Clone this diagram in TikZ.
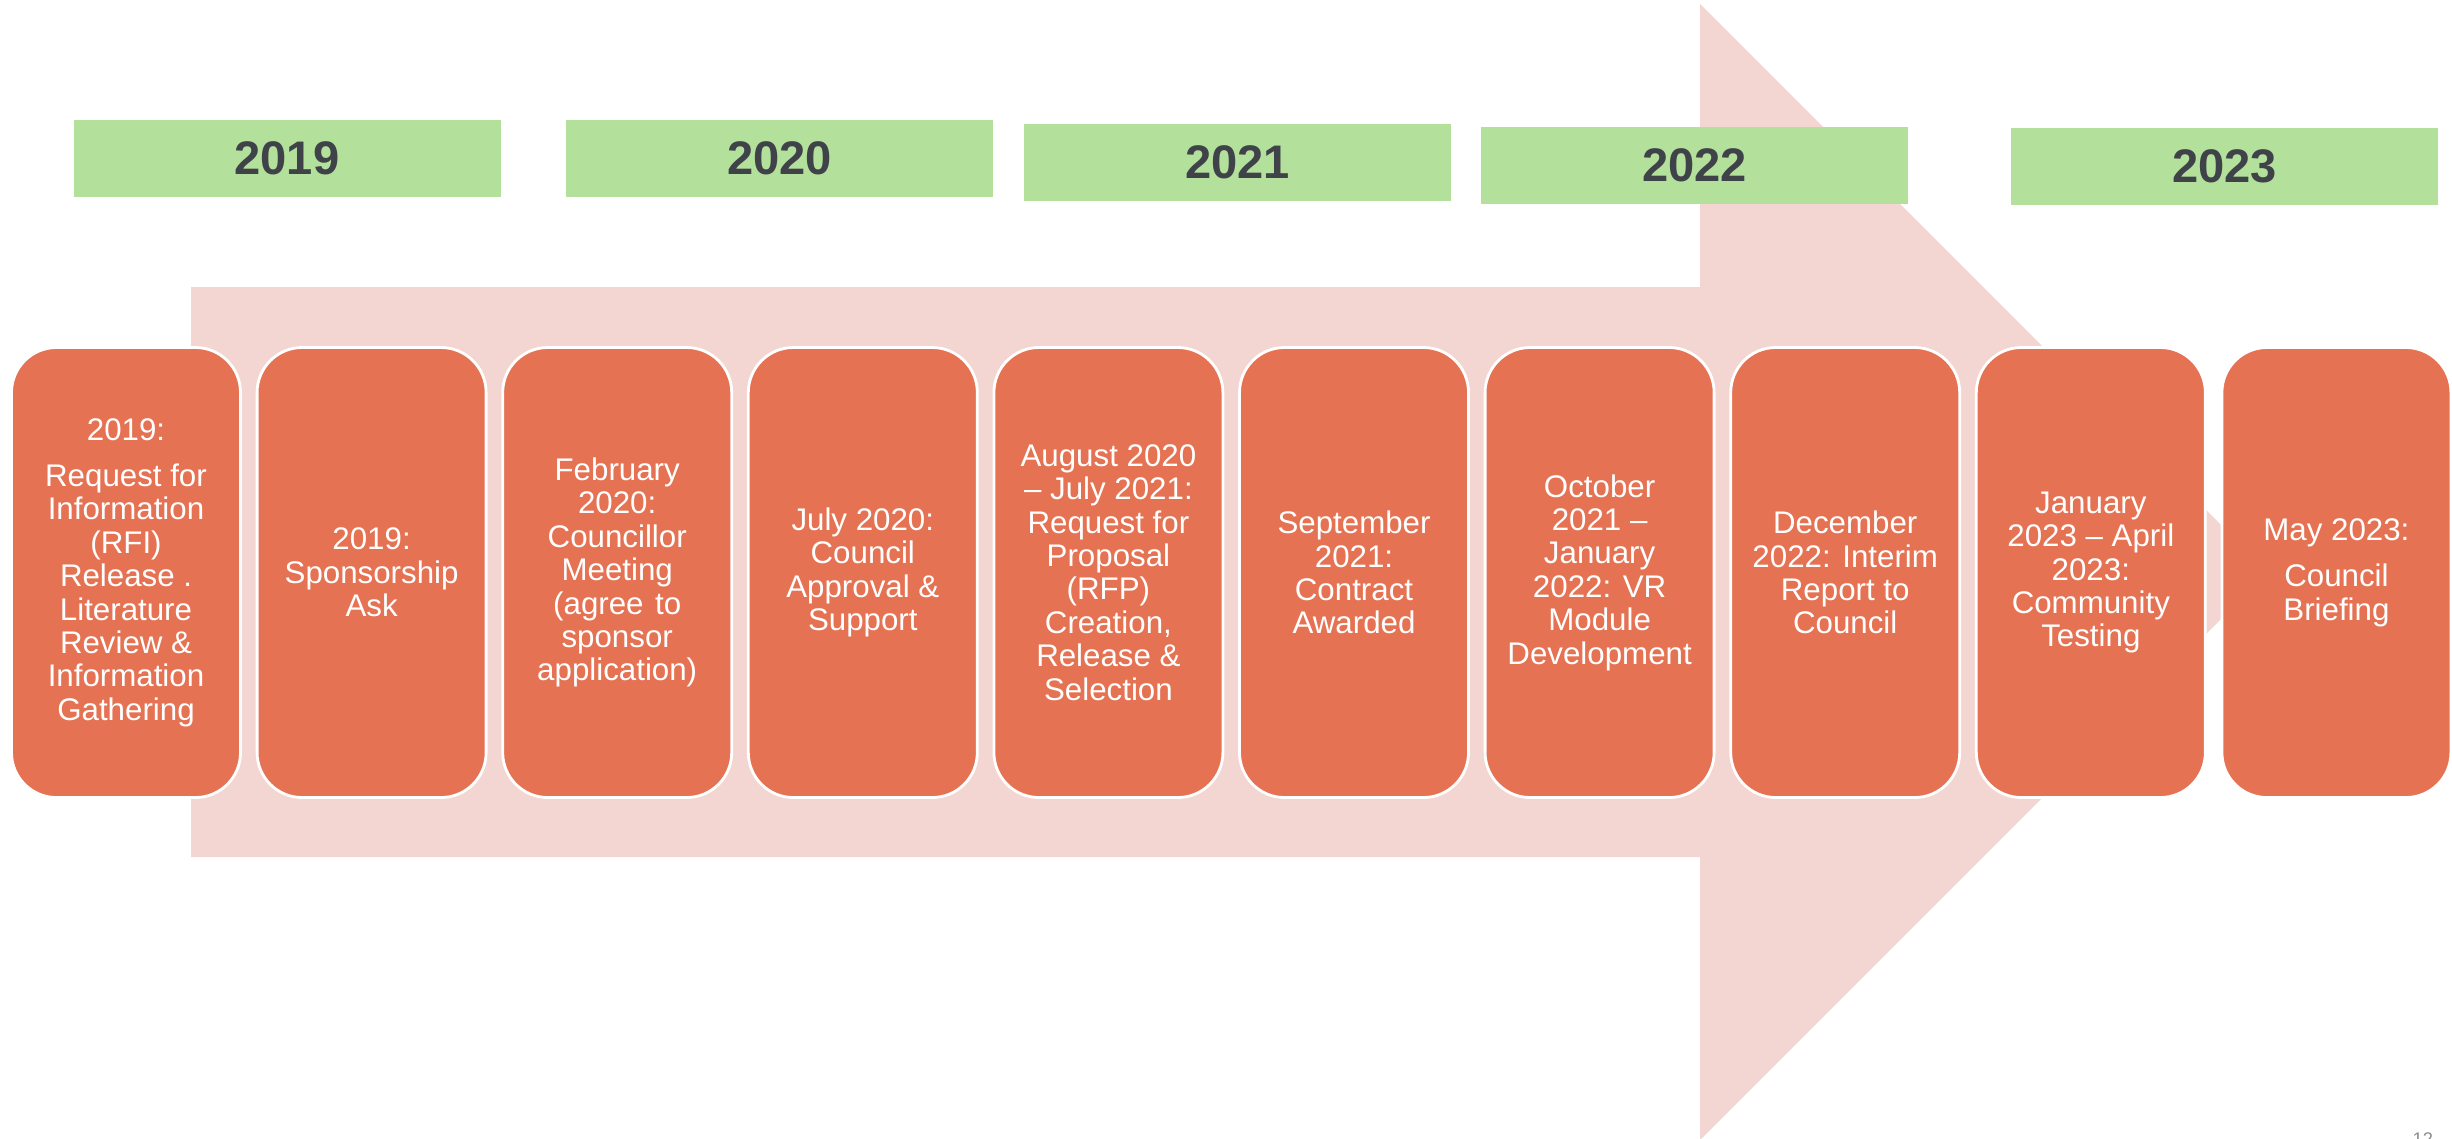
\documentclass[tikz,border=0pt]{standalone}
\usepackage{fontspec}
\setmainfont{Liberation Sans}
\definecolor{arrowpink}{HTML}{F3D6D1}
\definecolor{stageorange}{HTML}{E57252}
\definecolor{yeargreen}{HTML}{B3E09B}
\definecolor{yeartext}{HTML}{3F4349}
\definecolor{pagegray}{HTML}{8C8C8C}
\begin{document}
\begin{tikzpicture}[x=0.1mm,y=-0.1mm,
  yearbar/.style={fill=yeargreen, draw=none, minimum width=42.7mm, minimum height=7.7mm,
    inner sep=0pt, text=yeartext, font=\fontsize{13.4}{15}\selectfont\bfseries},
  stagebox/.style={fill=stageorange, draw=white, line width=0.8pt, rounded corners=4.5mm,
    minimum width=22.9mm, minimum height=45mm, inner sep=0pt, align=center, text=white,
    font=\fontsize{8.9}{9.5}\selectfont}]
\useasboundingbox (0,0) rectangle (2452,1138);

% background arrow
\fill[arrowpink] (191,287) -- (1700,287) -- (1700,4) -- (2268,572) -- (1700,1140)
  -- (1700,857) -- (191,857) -- cycle;

% year banners
\node[yearbar] (y2019) at (287,158.5) {2019};
\node[yearbar] (y2020) at (779.5,158.5) {2020};
\node[yearbar] (y2021) at (1237.5,162.5) {2021};
\node[yearbar] (y2022) at (1694.5,165) {2022};
\node[yearbar] (y2023) at (2224.5,166) {2023};

% timeline stages
\node[stagebox] (s1) at (126,572.5) {2019:\\[1.3mm]Request for\\Information\\(RFI)\\\makebox[13.2mm][s]{Release .}\\Literature\\\makebox[13.2mm][s]{Review \&}\\Information\\Gathering};
\node[stagebox] (s2) at (371.6,572.5) {2019:\\Sponsorship\\Ask};
\node[stagebox] (s3) at (617.2,572.5) {February\\2020:\\Councillor\\Meeting\\\makebox[12.8mm][s]{(agree to}\\sponsor\\application)};
\node[stagebox] (s4) at (862.8,572.5) {July 2020:\\Council\\Approval \&\\Support};
\node[stagebox] (s5) at (1108.4,572.5) {August 2020\\– July 2021:\\Request for\\Proposal\\(RFP)\\Creation,\\Release \&\\Selection};
\node[stagebox] (s6) at (1354,572.5) {September\\2021:\\Contract\\Awarded};
\node[stagebox] (s7) at (1599.6,572.5) {October\\2021 –\\January\\2022: VR\\Module\\Development};
\node[stagebox] (s8) at (1845.2,572.5) {December\\2022: Interim\\Report to\\Council};
\node[stagebox] (s9) at (2090.8,572.5) {January\\2023 – April\\2023:\\Community\\Testing};
\node[stagebox] (s10) at (2336.4,572.5) {May 2023:\\[1.3mm]Council\\Briefing};

% slide number
\node[anchor=base west, inner sep=0pt, text=pagegray, font=\fontsize{5.2}{6}\selectfont] (pg) at (2412,1145) {12};
\end{tikzpicture}
\end{document}
